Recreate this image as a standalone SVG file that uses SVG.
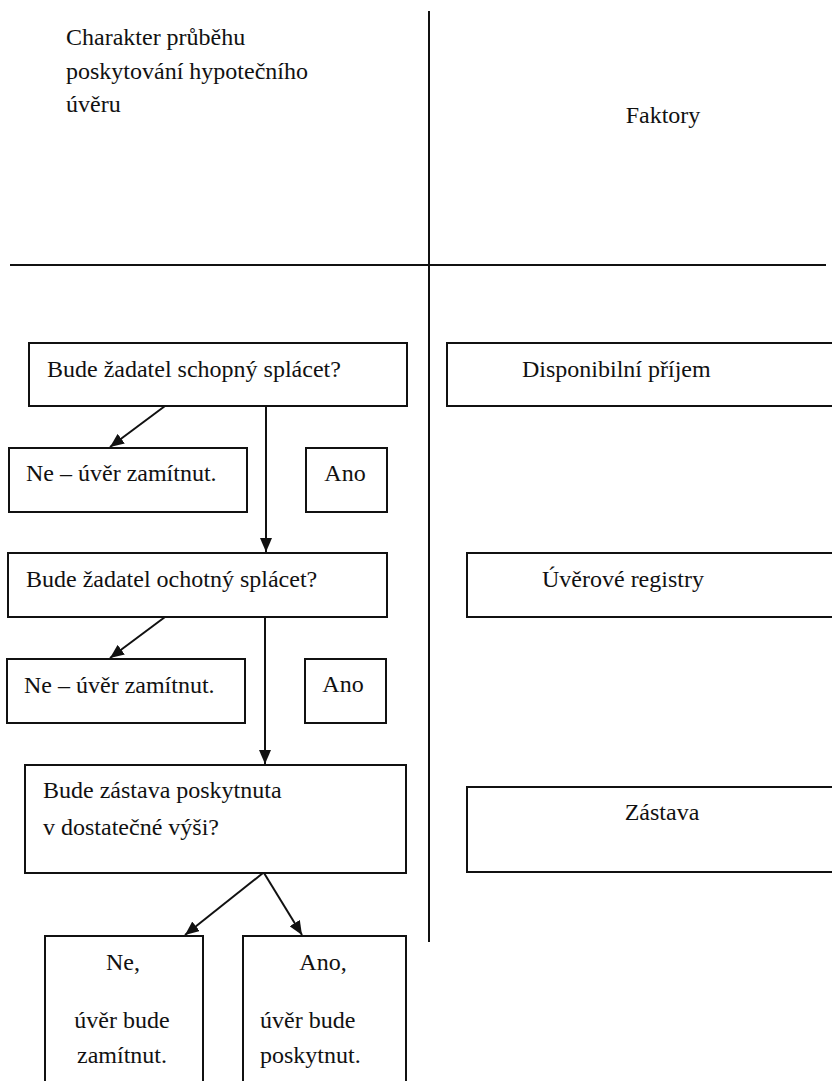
<svg xmlns="http://www.w3.org/2000/svg" width="832" height="1081" viewBox="0 0 832 1081">
<style>
.b{fill:#fff;stroke:#111;stroke-width:2}
.t{font-family:'Liberation Serif','Times New Roman',serif;font-size:24px;fill:#111}
.c{stroke:#111;stroke-width:2;fill:none}
.m{text-anchor:middle}
</style>
<defs>
<marker id="ah" viewBox="0 0 14 12" refX="14" refY="6" markerWidth="14" markerHeight="12" markerUnits="userSpaceOnUse" orient="auto">
<path d="M0,0 L14,6 L0,12 Z" fill="#111"/>
</marker>
</defs>
<rect width="832" height="1081" fill="#fff"/>
<g id="grid">
<line class="c" x1="429" y1="11" x2="429" y2="942"/>
<line class="c" x1="10" y1="265" x2="826" y2="265"/>
</g>
<g id="header-left"><text class="t" x="66" y="45">Charakter průběhu</text><text class="t" x="66" y="79">poskytování hypotečního</text><text class="t" x="66" y="112">úvěru</text></g>
<g id="header-right"><text class="t m" x="663" y="123">Faktory</text></g>
<g id="q1"><rect class="b" x="29" y="343" width="378" height="63"/><text class="t" x="47" y="377">Bude žadatel schopný splácet?</text></g>
<g id="ne1"><rect class="b" x="9" y="448" width="238" height="64"/><text class="t" x="26" y="481">Ne – úvěr zamítnut.</text></g>
<g id="ano1"><rect class="b" x="306" y="448" width="81" height="64"/><text class="t m" x="345" y="481">Ano</text></g>
<g id="q2"><rect class="b" x="8" y="553" width="379" height="64"/><text class="t" x="26" y="587">Bude žadatel ochotný splácet?</text></g>
<g id="ne2"><rect class="b" x="7" y="659" width="238" height="64"/><text class="t" x="24" y="693">Ne – úvěr zamítnut.</text></g>
<g id="ano2"><rect class="b" x="305" y="659" width="81" height="64"/><text class="t m" x="343" y="692">Ano</text></g>
<g id="q3"><rect class="b" x="25" y="765" width="381" height="108"/><text class="t" x="43" y="798">Bude zástava poskytnuta</text><text class="t" x="43" y="835">v dostatečné výši?</text></g>
<g id="ne3"><rect class="b" x="45" y="936" width="158" height="160"/><text class="t m" x="123" y="970">Ne,</text><text class="t m" x="122" y="1028">úvěr bude</text><text class="t m" x="122" y="1063">zamítnut.</text></g>
<g id="ano3"><rect class="b" x="243" y="936" width="163" height="160"/><text class="t m" x="323" y="970">Ano,</text><text class="t" x="260" y="1028">úvěr bude</text><text class="t" x="260" y="1063">poskytnut.</text></g>
<g id="f1"><rect class="b" x="447" y="343" width="400" height="63"/><text class="t" x="522" y="377">Disponibilní příjem</text></g>
<g id="f2"><rect class="b" x="467" y="553" width="380" height="64"/><text class="t" x="542" y="587">Úvěrové registry</text></g>
<g id="f3"><rect class="b" x="467" y="787" width="380" height="85"/><text class="t m" x="662" y="820">Zástava</text></g>
<g id="connectors">
<line class="c" x1="165" y1="406" x2="110" y2="447" marker-end="url(#ah)"/>
<line class="c" x1="266" y1="406" x2="266" y2="552" marker-end="url(#ah)"/>
<line class="c" x1="165" y1="617" x2="110" y2="658" marker-end="url(#ah)"/>
<line class="c" x1="265" y1="617" x2="265" y2="764" marker-end="url(#ah)"/>
<line class="c" x1="263" y1="873" x2="185" y2="935" marker-end="url(#ah)"/>
<line class="c" x1="264" y1="873" x2="302" y2="935" marker-end="url(#ah)"/>
</g>
</svg>
